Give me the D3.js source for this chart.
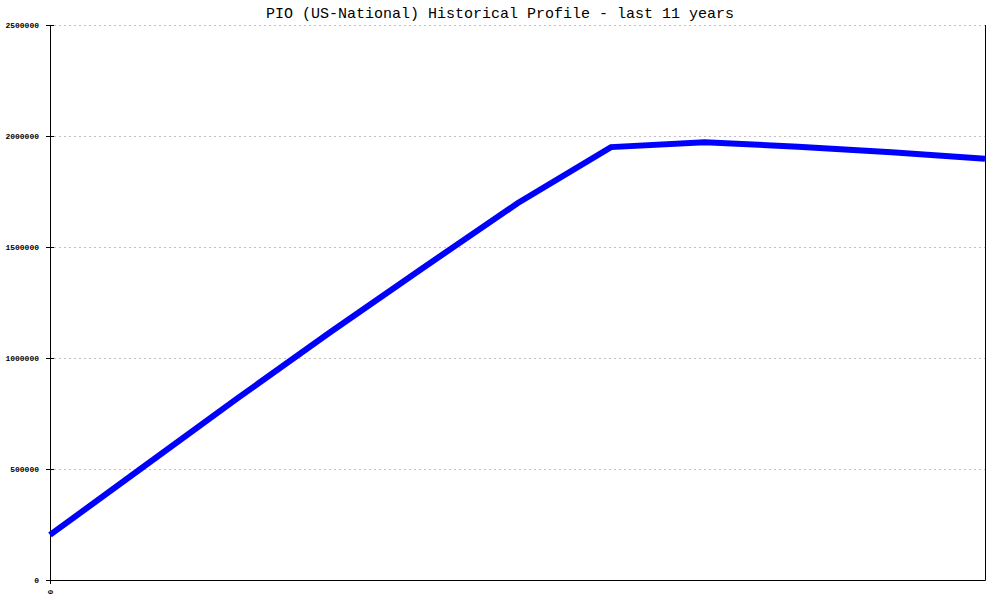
<!DOCTYPE html>
<head>
  <meta charset="utf-8">
  <script src="https://d3js.org/d3.v7.min.js"></script>
  <style>
    body { margin: 0; background: #fff; }
    svg { font-family: "Liberation Mono", "DejaVu Sans Mono", monospace; }
    .title { font-size: 15px; }
    .ylab { font-size: 8px; font-weight: bold; }
    .grid line { stroke: #c0c0c0; stroke-dasharray: 2,3; }
  </style>
</head>
<body>
  <div id="chart"></div>
  <script>
    // one value per year, 11 years
    var years = [0, 1, 2, 3, 4, 5, 6, 7, 8, 9, 10];
    var values = [203000, 510000, 817000, 1117000, 1409000, 1697000, 1950000, 1972000, 1952000, 1927000, 1897000];
    var yTicks = [0, 500000, 1000000, 1500000, 2000000, 2500000];
    var xTicks = [0];

    var W = 1000, H = 600,
        padL = 50, padR = 985, padT = 25, padB = 580;

    var svg = d3.select("#chart").append("svg")
      .attr("width", W)
      .attr("height", H);

    var x = d3.scaleLinear().domain([0, 10]).range([padL, padR]);
    var y = d3.scaleLinear().domain([0, 2500000]).range([padB, padT]);

    svg.append("text")
      .attr("class", "title")
      .attr("x", 500)
      .attr("y", 18)
      .attr("text-anchor", "middle")
      .text("PIO (US-National) Historical Profile - last 11 years");

    // gridlines
    svg.append("g")
      .attr("class", "grid")
      .selectAll("line")
      .data(yTicks.filter(function(d) { return d > 0; }))
      .enter().append("line")
        .attr("x1", padL + 4)
        .attr("x2", padR)
        .attr("y1", function(d) { return y(d) + 0.5; })
        .attr("y2", function(d) { return y(d) + 0.5; });

    // y ticks and labels
    var yg = svg.append("g");
    yg.selectAll("line")
      .data(yTicks)
      .enter().append("line")
        .attr("x1", padL - 4)
        .attr("x2", padL + 4)
        .attr("y1", function(d) { return y(d) + 0.5; })
        .attr("y2", function(d) { return y(d) + 0.5; })
        .attr("stroke", "#000");
    yg.selectAll("text")
      .data(yTicks)
      .enter().append("text")
        .attr("class", "ylab")
        .attr("x", padL - 11)
        .attr("y", function(d) { return y(d) + 3; })
        .attr("text-anchor", "end")
        .text(function(d) { return d; });

    // x ticks
    var xg = svg.append("g");
    xg.selectAll("line")
      .data(xTicks)
      .enter().append("line")
        .attr("x1", function(d) { return x(d) + 0.5; })
        .attr("x2", function(d) { return x(d) + 0.5; })
        .attr("y1", padB)
        .attr("y2", padB + 4)
        .attr("stroke", "#000");
    xg.selectAll("text")
      .data(xTicks)
      .enter().append("text")
        .attr("class", "ylab")
        .attr("transform", function(d) { return "translate(" + (x(d) + 3) + "," + (padB + 12) + ") rotate(-90)"; })
        .attr("text-anchor", "middle")
        .text(function(d) { return d; });

    // frame: left axis, bottom axis, right edge
    svg.append("path")
      .attr("d", "M" + (padL + 0.5) + "," + padT + "V" + (padB + 0.5) + "H" + (padR + 0.5) + "V" + padT)
      .attr("fill", "none")
      .attr("stroke", "#000");

    var line = d3.line()
      .x(function(d, i) { return x(years[i]); })
      .y(function(d) { return y(d); });

    svg.append("path")
      .datum(values)
      .attr("d", line)
      .attr("fill", "none")
      .attr("stroke", "#0000ff")
      .attr("stroke-width", 6);
  </script>
</body>
